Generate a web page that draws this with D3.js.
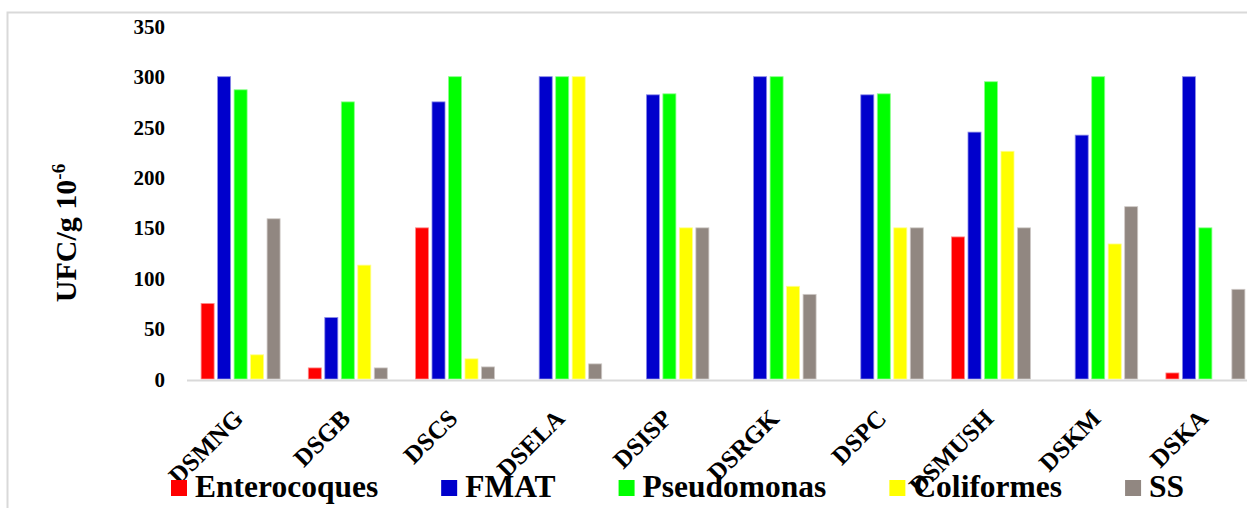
<!DOCTYPE html>
<html>
<head>
<meta charset="utf-8">
<script src="https://cdn.jsdelivr.net/npm/d3@7"></script>
<style>
  html, body { margin: 0; padding: 0; background: #fff; }
  svg { display: block; }
  text { font-family: "Times New Roman", "Liberation Serif", serif; font-weight: bold; fill: #000; }
</style>
</head>
<body>
<svg id="chart" width="1247" height="508"></svg>
<script>
// Sampling sites
const categories = ["DSMNG", "DSGB", "DSCS", "DSELA", "DSISP", "DSRGK", "DSPC", "DSMUSH", "DSKM", "DSKA"];

// Counts per site (UFC/g 10^-6)
const enterocoques = [75, 11, 150, 0, 0, 0, 0, 141, 0, 6];
const fmat         = [300, 61, 275, 300, 282, 300, 282, 245, 242, 300];
const pseudomonas  = [287, 275, 300, 300, 283, 300, 283, 295, 300, 150];
const coliformes   = [24, 113, 20, 300, 150, 92, 150, 226, 134, 0];
const ss           = [159, 11, 12, 15, 150, 84, 150, 150, 171, 89];

const seriesNames = ["Enterocoques", "FMAT", "Pseudomonas", "Coliformes", "SS"];
const yTicks = [0, 50, 100, 150, 200, 250, 300, 350];

const seriesValues = [enterocoques, fmat, pseudomonas, coliformes, ss];
const colors = ["#ff0000", "#0000cc", "#00ff00", "#ffff00", "#918781"];
const FONT = "Times New Roman, Liberation Serif, serif";

const svg = d3.select("#chart");

// Outer frame
svg.append("rect")
  .attr("x", 7.5).attr("y", 12.5)
  .attr("width", 1300).attr("height", 600)
  .attr("fill", "none").attr("stroke", "#d9d9d9").attr("stroke-width", 2);

const plotLeft = 187, step = 107.2;
const x0 = d3.scaleBand()
  .domain(categories)
  .range([plotLeft, plotLeft + step * categories.length])
  .paddingInner(0.263).paddingOuter(0.1315);

const x1 = d3.scaleBand()
  .domain(seriesNames)
  .range([0, x0.bandwidth()])
  .paddingInner(0.21).paddingOuter(0);

const y = d3.scaleLinear().domain([0, 350]).range([379, 26.3]);

// Y axis: labels only
const yAxis = d3.axisLeft(y).tickValues(yTicks).tickSize(0).tickPadding(0);
const gy = svg.append("g").attr("transform", "translate(165,0)").call(yAxis);
gy.select(".domain").remove();
gy.selectAll("text")
  .attr("font-size", 21)
  .attr("font-family", FONT)
  .attr("font-weight", "bold")
  .attr("fill", "#000")
  .attr("dy", "0.34em");

// Y axis title
const title = svg.append("text")
  .attr("transform", "translate(76,233) rotate(-90)")
  .attr("text-anchor", "middle")
  .attr("font-size", 30);
title.append("tspan").text("UFC/g 10");
title.append("tspan").attr("font-size", 19).attr("dy", -11).text("-6");

// Bars
const groups = svg.append("g").selectAll("g")
  .data(categories)
  .join("g")
  .attr("transform", d => `translate(${x0(d)},0)`);

groups.selectAll("rect")
  .data((d, i) => seriesNames.map((s, k) => ({ s, k, v: seriesValues[k][i] })))
  .join("rect")
  .filter(d => d.v > 0)
  .attr("x", d => x1(d.s))
  .attr("width", x1.bandwidth())
  .attr("y", d => y(d.v))
  .attr("height", d => y(0) - y(d.v))
  .attr("fill", d => colors[d.k])
  .attr("stroke", d => d3.interpolateRgb(colors[d.k], "#ffffff")(0.55))
  .attr("stroke-width", 0.8);

// Baseline
svg.append("line")
  .attr("x1", plotLeft).attr("x2", 1260)
  .attr("y1", 380.5).attr("y2", 380.5)
  .attr("stroke", "#d9d9d9").attr("stroke-width", 2);

// X category labels
const xAxis = d3.axisBottom(x0).tickSize(0).tickPadding(0);
const gx = svg.append("g").attr("transform", "translate(0,380)").call(xAxis);
gx.select(".domain").remove();
gx.selectAll("text")
  .attr("font-size", 25)
  .attr("font-family", FONT)
  .attr("font-weight", "bold")
  .attr("fill", "#000")
  .attr("text-anchor", "end")
  .attr("dy", 0)
  .attr("y", 0)
  .attr("transform", "translate(4,40) rotate(-45)");

// Legend (flow layout)
const legend = svg.append("g");
let lx = 171;
seriesNames.forEach((name, k) => {
  legend.append("rect")
    .attr("x", lx).attr("y", 480)
    .attr("width", 16).attr("height", 16)
    .attr("fill", colors[k]);
  const t = legend.append("text")
    .attr("x", lx + 24).attr("y", 497)
    .attr("font-size", 31.5)
    .text(name);
  lx += 24 + t.node().getComputedTextLength() + 63;
});
</script>
</body>
</html>
